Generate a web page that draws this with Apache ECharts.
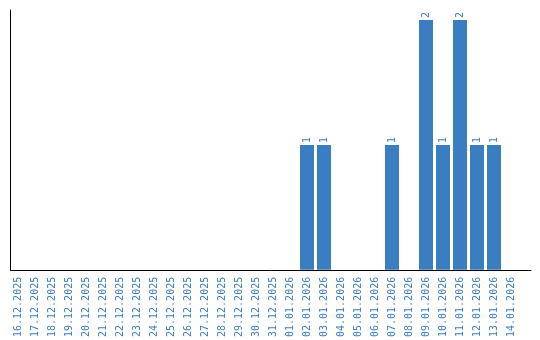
<!DOCTYPE html>
<html><head><meta charset="utf-8">
<script src="https://cdn.jsdelivr.net/npm/echarts@6/dist/echarts.min.js"></script>
<style>html,body{margin:0;padding:0;background:#fff}#c{width:540px;height:340px}</style>
</head><body><div id="c"></div>
<script>
const categories = ['16.12.2025','17.12.2025','18.12.2025','19.12.2025','20.12.2025','21.12.2025','22.12.2025','23.12.2025','24.12.2025','25.12.2025','26.12.2025','27.12.2025','28.12.2025','29.12.2025','30.12.2025','31.12.2025','01.01.2026','02.01.2026','03.01.2026','04.01.2026','05.01.2026','06.01.2026','07.01.2026','08.01.2026','09.01.2026','10.01.2026','11.01.2026','12.01.2026','13.01.2026','14.01.2026'];
const counts = [0,0,0,0,0,0,0,0,0,0,0,0,0,0,0,0,0,1,1,0,0,0,1,0,2,1,2,1,1,0];
const blue = '#3b7dc1';
const chart = echarts.init(document.getElementById('c'));
chart.setOption({
  animation: false,
  grid: [
    {left: 10.5, right: 9, top: 10, bottom: 70},
    {left: 9.5, width: 510, top: 20, bottom: 70}
  ],
  xAxis: [
    {gridIndex: 0, type: 'value', min: 0, max: 1, axisLine: {show: true, onZero: false, lineStyle: {color: '#000', width: 1}}, axisTick: {show: false}, axisLabel: {show: false}, splitLine: {show: false}},
    {gridIndex: 1, type: 'category', data: categories, axisLine: {show: false}, axisTick: {show: false}, splitLine: {show: false},
     axisLabel: {interval: 0, rotate: 90, color: blue, fontFamily: 'DejaVu Sans Mono', fontSize: 10, margin: 7}}
  ],
  yAxis: [
    {gridIndex: 0, type: 'value', min: 0, max: 1, axisLine: {show: true, lineStyle: {color: '#000', width: 1}}, axisTick: {show: false}, axisLabel: {show: false}, splitLine: {show: false}},
    {gridIndex: 1, type: 'value', min: 0, max: 2, axisLine: {show: false}, axisTick: {show: false}, axisLabel: {show: false}, splitLine: {show: false}}
  ],
  series: [{
    type: 'bar', xAxisIndex: 1, yAxisIndex: 1, data: counts.map(v => v === 0 ? null : v), barWidth: 14,
    itemStyle: {color: blue},
    label: {show: true, position: 'top', rotate: 90, align: 'left', verticalAlign: 'middle', distance: 2, color: blue, fontFamily: 'DejaVu Sans Mono', fontSize: 10}
  }]
});
</script></body></html>
